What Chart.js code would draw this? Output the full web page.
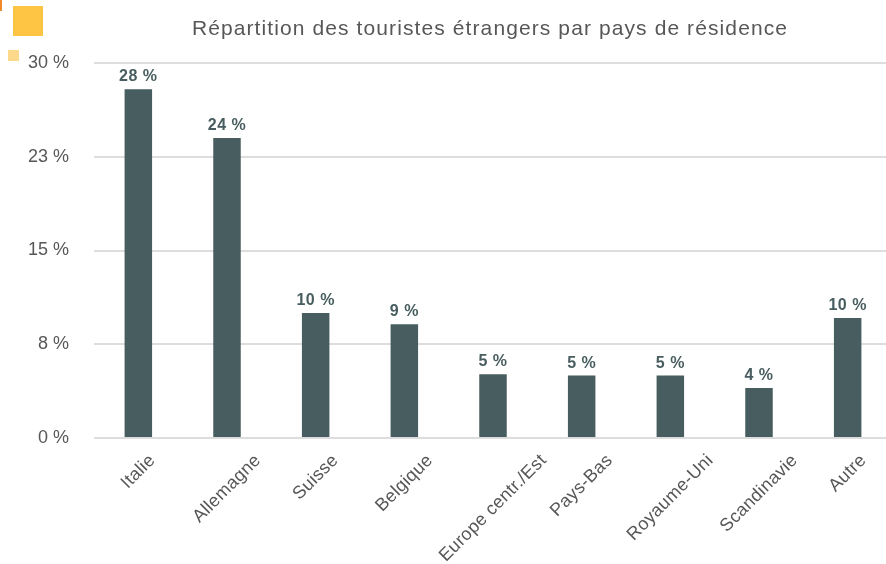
<!DOCTYPE html>
<html>
<head>
<meta charset="utf-8">
<script src="https://cdn.jsdelivr.net/npm/chart.js@4/dist/chart.umd.min.js"></script>
<style>
  html, body { margin: 0; padding: 0; background: #fff; overflow: hidden; }
  #wrap { position: relative; width: 886px; height: 564px; overflow: hidden; }
  #chart { display: block; }
  .deco { position: absolute; }
</style>
</head>
<body>
<div id="wrap">
  <canvas id="chart" width="892" height="564"></canvas>
  <div class="deco" style="left:0;top:0;width:2px;height:11px;background:#ef8a2b"></div>
  <div class="deco" style="left:13px;top:6px;width:30px;height:30px;background:#fdc543"></div>
  <div class="deco" style="left:8px;top:50px;width:11px;height:11px;background:#fdd98c"></div>
</div>
<script>
"use strict";

const categories = ["Italie", "Allemagne", "Suisse", "Belgique", "Europe centr./Est", "Pays-Bas", "Royaume-Uni", "Scandinavie", "Autre"];
const shares = [27.9, 24.0, 10.0, 9.1, 5.1, 5.0, 5.0, 4.0, 9.6];
const yTicks = [0, 7.5, 15, 22.5, 30];
const title = "Répartition des touristes étrangers par pays de résidence";

const BAR = "#485d5f";
const TEXT = "#575757";
const FONT = "'Liberation Sans', Arial, sans-serif";
const VISIBLE_W = 886; // the wrapper crops the last few px of the canvas

const fmtPct = (v) => `${Math.round(v)} %`;

// title, value labels and slanted category names
const labelsPlugin = {
  id: "labels",
  afterDraw(chart) {
    const { ctx, chartArea } = chart;
    const xs = chart.scales.x;
    const mid = (chartArea.left + Math.min(chartArea.right, VISIBLE_W)) / 2;

    ctx.save();
    ctx.fillStyle = TEXT;
    ctx.font = `21px ${FONT}`;
    ctx.letterSpacing = "1.1px";
    ctx.textAlign = "center";
    ctx.textBaseline = "middle";
    ctx.fillText(title, mid, 29);
    ctx.restore();

    ctx.save();
    ctx.fillStyle = BAR;
    ctx.font = `bold 16px ${FONT}`;
    ctx.letterSpacing = "0.5px";
    ctx.textAlign = "center";
    ctx.textBaseline = "alphabetic";
    chart.getDatasetMeta(0).data.forEach((bar, i) => {
      ctx.fillText(fmtPct(shares[i]), bar.x, bar.y - 8);
    });
    ctx.restore();

    ctx.save();
    ctx.fillStyle = TEXT;
    ctx.font = `18px ${FONT}`;
    ctx.letterSpacing = "0.3px";
    ctx.textAlign = "center";
    ctx.textBaseline = "middle";
    categories.forEach((lab, i) => {
      const x = xs.getPixelForTick(i);
      const ext = (ctx.measureText(lab).width + 13) * Math.SQRT1_2;
      ctx.save();
      ctx.translate(x, chartArea.bottom + 15 + ext / 2);
      ctx.rotate(-Math.PI / 4);
      ctx.fillText(lab, 0, 0);
      ctx.restore();
    });
    ctx.restore();
  },
};

new Chart(document.getElementById("chart").getContext("2d"), {
  type: "bar",
  data: {
    labels: categories,
    datasets: [{ data: shares, backgroundColor: BAR, categoryPercentage: 1, barPercentage: 0.31 }],
  },
  options: {
    responsive: false,
    animation: false,
    layout: { padding: { top: 63, bottom: 126, left: 0, right: 0 } },
    plugins: { legend: { display: false }, title: { display: false }, tooltip: { enabled: false } },
    scales: {
      x: {
        ticks: { display: false },
        grid: { display: false, drawTicks: false },
        border: { display: false },
        afterFit: (s) => { s.height = 0; },
      },
      y: {
        min: 0,
        max: 30,
        afterBuildTicks: (s) => { s.ticks = yTicks.map((v) => ({ value: v })); },
        afterFit: (s) => { s.width = 94; },
        ticks: { padding: 25, color: TEXT, font: { size: 18, family: FONT }, callback: (v) => fmtPct(v) },
        grid: { color: "#dddddd", lineWidth: 2, drawTicks: false },
        border: { display: false },
      },
    },
  },
  plugins: [labelsPlugin],
});
</script>
</body>
</html>
